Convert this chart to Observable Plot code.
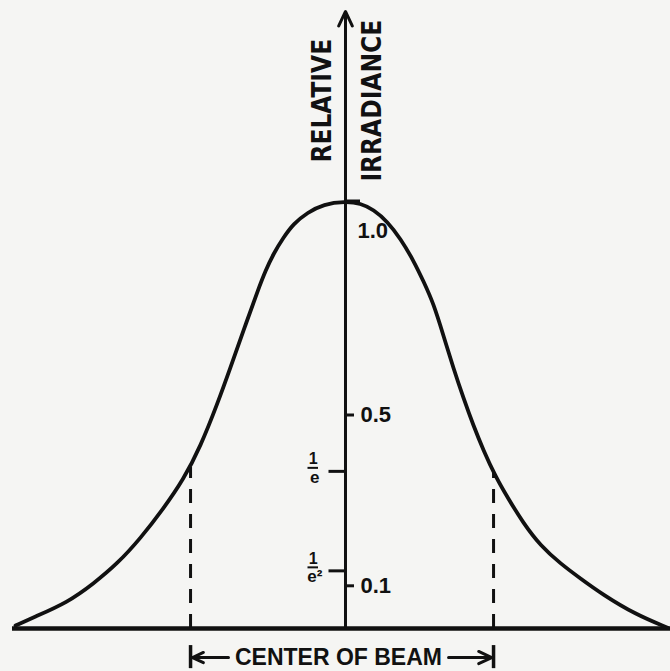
<!DOCTYPE html>
<html>
<head>
<meta charset="utf-8">
<script src="https://cdn.jsdelivr.net/npm/d3@7"></script>
<script src="https://cdn.jsdelivr.net/npm/@observablehq/plot@0.6"></script>
<style>
  html, body { margin: 0; padding: 0; background: #f5f5f3; }
  #chart svg { display: block; }
</style>
</head>
<body>
<div id="chart"></div>
<script>
// Beam profile (x in beam-radius units, y = relative irradiance)
const profileX = [-2.2, -2.08, -1.853, -1.68, -1.52, -1.367, -1.213, -1.08, -0.967, -0.853, -0.767, -0.68, -0.58, -0.533, -0.48, -0.413, -0.347, -0.253, -0.147, 0,
                  0.1, 0.187, 0.28, 0.367, 0.453, 0.52, 0.587, 0.653, 0.72, 0.787, 0.853, 0.92, 1.0, 1.08, 1.187, 1.3, 1.433, 1.567, 1.713, 1.933, 2.147];
const profileY = [0.007, 0.026, 0.061, 0.105, 0.152, 0.211, 0.281, 0.349, 0.426, 0.527, 0.611, 0.698, 0.796, 0.838, 0.878, 0.916, 0.948, 0.974, 0.994, 1.0,
                  0.996, 0.981, 0.953, 0.913, 0.862, 0.813, 0.761, 0.686, 0.609, 0.539, 0.475, 0.417, 0.356, 0.307, 0.246, 0.194, 0.152, 0.117, 0.080, 0.033, 0.002];

// Right-hand ticks and labels
const rightTicks = [0.5, 0.1];
const rightTickLabels = ["0.5", "0.1"];
const peakLabel = "1.0";
// Left-hand ticks (1/e and 1/e²)
const leftTicks = [0.368, 0.135];
const leftNumer = ["1", "1"];
const leftDenom = ["e", "e²"];

// Dashed markers at the 1/e points
const dashX = [-1.033, 0.987];
const dashTop = [0.377, 0.363];

const axisTitle = ["RELATIVE", "IRRADIANCE"];
const beamLabel = "CENTER OF BEAM";

const ink = "#111";
const sans = "Liberation Sans, Arial, sans-serif";
const narrow = "Liberation Sans Narrow, DejaVu Sans Condensed, sans-serif";
const profile = profileX.map((x, i) => ({x, y: profileY[i]}));
const rticks = rightTicks.map((v, i) => ({v, label: rightTickLabels[i]}));
const lticks = leftTicks.map((v, i) => ({v, n: leftNumer[i], d: leftDenom[i]}));
const dashes = dashX.map((x, i) => ({x, top: dashTop[i]}));

const plot = Plot.plot({
  width: 670,
  height: 671,
  marginLeft: 0,
  marginRight: 0,
  marginTop: 8.85,
  marginBottom: 0.3,
  x: {domain: [-2.3, 2.16667], axis: null},
  y: {domain: [-0.1, 1.45], axis: null},
  style: {background: "#f5f5f3"},
  marks: [
    // baseline
    Plot.ruleY([0], {x1: -2.22, x2: 2.1667, stroke: ink, strokeWidth: 4.5}),
    // vertical axis with arrow
    Plot.arrow([0], {x1: 0, y1: 0, x2: 0, y2: 1.445, stroke: ink, strokeWidth: 3, headLength: 8, headAngle: 50}),
    // peak tick (1.0)
    Plot.ruleY([1.0], {x1: 0, x2: 0.1, stroke: ink, strokeWidth: 4}),
    // right ticks
    Plot.ruleY(rticks, {y: "v", x1: 0, x2: 0.06, stroke: ink, strokeWidth: 3}),
    Plot.text(rticks, {y: "v", x: 0.1, text: "label", textAnchor: "start", fontSize: 22, fontWeight: "bold", fontFamily: sans, fill: ink}),
    Plot.text([peakLabel], {x: 0.08, y: 0.93, text: d => d, textAnchor: "start", fontSize: 22, fontWeight: "bold", fontFamily: sans, fill: ink}),
    // left ticks with 1/e and 1/e² fractions
    Plot.ruleY(lticks, {y: "v", x1: -0.11, x2: 0, stroke: ink, strokeWidth: 3}),
    Plot.text(lticks, {y: "v", x: -0.215, text: "n", dy: -12, fontSize: 16, fontWeight: "bold", fontFamily: sans, fill: ink}),
    Plot.ruleY(lticks, {y: "v", x1: -0.25, x2: -0.18, dy: -3.5, stroke: ink, strokeWidth: 2}),
    Plot.text(lticks, {y: "v", x: -0.205, text: "d", dy: 6, fontSize: 17, fontWeight: "bold", fontFamily: sans, fill: ink}),
    // dashed lines at 1/e
    Plot.ruleX(dashes, {x: "x", y1: 0, y2: "top", stroke: ink, strokeWidth: 3, strokeDasharray: "14,11"}),
    // the profile curve
    Plot.line(profile, {x: "x", y: "y", curve: "basis", stroke: ink, strokeWidth: 3.8}),
    // vertical axis title
    Plot.text([axisTitle[0]], {x: -0.153, y: 1.236, text: d => d, rotate: -90, fontSize: 26, fontWeight: "bold", fontFamily: narrow, fill: ink}),
    Plot.text([axisTitle[1]], {x: 0.18, y: 1.236, text: d => d, rotate: -90, fontSize: 26, fontWeight: "bold", fontFamily: narrow, fill: ink}),
    // center-of-beam annotation
    Plot.text([beamLabel], {x: -0.047, y: -0.068, text: d => d, fontSize: 23, fontWeight: "bold", fontFamily: sans, fill: ink}),
    Plot.ruleX(dashX, {x: d => d, y1: -0.04, y2: -0.094, stroke: ink, strokeWidth: 3.5}),
    Plot.arrow([0], {x1: -0.78, x2: -1.02, y1: -0.068, y2: -0.068, stroke: ink, strokeWidth: 3, headLength: 10, headAngle: 50}),
    Plot.arrow([0], {x1: 0.687, x2: 0.975, y1: -0.068, y2: -0.068, stroke: ink, strokeWidth: 3, headLength: 10, headAngle: 50})
  ]
});
document.getElementById("chart").appendChild(plot);
</script>
</body>
</html>
